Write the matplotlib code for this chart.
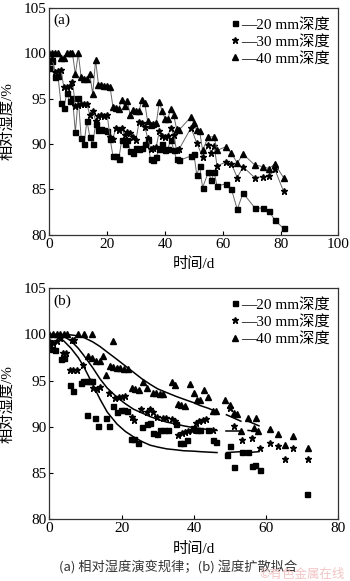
"""Relative humidity evolution (a) and humidity diffusion fitting (b)."""

import matplotlib

matplotlib.use("Agg")
import matplotlib.pyplot as plt
from matplotlib.lines import Line2D

plt.rcParams["font.family"] = ["Liberation Serif", "Noto Sans CJK SC"]
plt.rcParams["axes.unicode_minus"] = False

# ---------------- panel (a): measured series ----------------
days_a20 = [0, 1, 2, 3, 4, 5, 6, 7, 8, 9, 10, 11, 12, 13, 14, 15, 16, 17, 18, 19,
            20, 21, 22, 23, 24, 25, 26, 27, 28, 29, 30, 31, 32, 33, 34, 35, 36, 37,
            38, 39, 40, 41, 42, 43, 44, 45, 49, 50, 51, 52, 53, 55, 56, 57, 58, 61,
            63, 65, 67, 71, 74, 76, 78, 81]
rh_a20 = [98.4, 99.2, 97.4, 97.5, 94.5, 94.0, 95.6, 94.7, 95.1, 91.3, 95.1, 90.7,
          90.0, 92.6, 90.8, 90.0, 92.2, 91.6, 91.7, 91.6, 91.4, 90.6, 88.7, 88.7,
          88.3, 90.4, 90.0, 90.5, 89.2, 89.0, 89.6, 89.5, 89.6, 90.0, 90.4, 88.3,
          88.2, 88.6, 89.5, 90.0, 89.4, 89.5, 90.5, 89.4, 88.3, 88.2, 88.7, 88.9,
          86.6, 87.6, 85.2, 86.9, 86.0, 86.9, 85.4, 85.6, 85.0, 82.8, 84.6, 83.0,
          82.9, 82.6, 81.6, 80.7]

days_a30 = [0, 1, 2, 3, 4, 5, 6, 7, 8, 9, 10, 11, 12, 13, 14, 15, 16, 17, 18, 19,
            20, 21, 22, 23, 24, 25, 26, 27, 28, 29, 30, 31, 32, 33, 34, 35, 36, 37,
            38, 39, 40, 41, 42, 43, 44, 45, 49, 51, 53, 55, 56, 57, 58, 61, 63, 65,
            67, 71, 74, 76, 78, 81]
rh_a30 = [99.3, 99.4, 98.0, 98.1, 98.2, 96.3, 96.3, 96.4, 96.9, 94.2, 94.3, 94.4,
          94.4, 94.4, 93.2, 93.7, 92.6, 93.1, 93.2, 93.1, 93.2, 90.8, 90.6, 91.8,
          91.5, 91.8, 91.0, 91.3, 91.2, 90.8, 90.5, 92.4, 92.3, 91.9, 90.7, 89.5,
          89.6, 89.7, 91.4, 90.9, 90.8, 90.9, 91.8, 91.0, 89.3, 89.5, 91.8, 90.1,
          88.6, 89.9, 89.0, 89.8, 87.6, 88.0, 87.8, 86.3, 87.5, 86.3, 86.4, 86.5,
          87.2, 84.8]

days_a40 = [0, 1, 2, 3, 4, 5, 6, 7, 8, 9, 10, 11, 12, 13, 14, 15, 16, 17, 18, 19,
            20, 21, 22, 23, 24, 25, 26, 27, 28, 29, 30, 31, 32, 33, 34, 35, 36, 37,
            38, 39, 40, 41, 42, 43, 44, 45, 49, 50, 51, 52, 53, 55, 57, 58, 61, 63,
            65, 67, 71, 74, 76, 78, 81]
rh_a40 = [100, 100, 100, 100, 99.5, 99.5, 100, 100, 100, 97.7, 100, 97.4, 97.2,
          97.2, 97.7, 95.5, 99.3, 96.5, 96.5, 96.4, 96.4, 96.3, 94.1, 94.0, 93.9,
          94.9, 94.2, 94.7, 93.2, 93.8, 93.6, 93.6, 94.9, 94.5, 92.5, 92.1, 92.2,
          92.3, 94.6, 93.7, 92.8, 92.8, 93.9, 93.2, 91.7, 91.6, 93.0, 92.3, 91.5,
          91.4, 89.3, 90.8, 90.8, 89.3, 89.7, 89.0, 87.9, 88.9, 87.7, 87.5, 87.3,
          87.8, 86.3]

# ---------------- panel (b): measured points ----------------
days_b20 = [0, 0.7, 1.6, 3.1, 4.1, 5.7, 6.6, 8.7, 9.4, 10.3, 11.0, 11.7, 10.5, 12.7,
            13.6, 15.7, 16.6, 17.7, 18.7, 19.8, 20.7, 21.6, 22.5, 23.5, 24.4, 25.6,
            26.9, 27.8, 28.8, 29.7, 30.7, 31.7, 32.8, 35.1, 36.2, 37.1, 38.0, 39.7,
            40.8, 41.8, 44.0, 45.4, 46.2, 49.1, 50.0, 51.0, 53.3, 55.1, 56.0, 57.0,
            58.2, 71.3]
rh_b20 = [99.1, 98.4, 98.3, 97.3, 97.4, 94.5, 93.9, 94.7, 95.0, 95.0, 95.0, 95.0,
          91.3, 90.9, 90.1, 90.9, 90.1, 92.2, 91.6, 91.8, 91.8, 91.7, 88.7, 88.7,
          88.2, 90.0, 90.3, 90.4, 89.3, 89.2, 89.6, 89.6, 89.6, 90.3, 88.2, 88.2,
          88.6, 89.9, 89.6, 89.7, 89.6, 88.6, 88.3, 86.9, 87.9, 85.6, 87.3, 87.3,
          85.7, 85.9, 85.3, 82.7]

days_b30 = [0, 1, 2, 3, 3.7, 4.6, 6.2, 6.9, 5.7, 6.6, 7.6, 9.4, 12.2, 13.1, 14.0,
            16.6, 18.3, 19.3, 20.2, 21.0, 22.8, 23.3, 25.3, 26.9, 27.9, 28.8, 29.9,
            31.4, 32.4, 33.9, 34.8, 35.7, 36.7, 37.6, 38.5, 39.4, 40.5, 41.4, 42.4,
            43.3, 45.4, 49.9, 51.2, 53.2, 56.2, 58.2, 61.1, 63.3, 65.3, 67.3, 71.5]
rh_b30 = [99.3, 99.1, 99.3, 99.6, 98.0, 98.0, 99.4, 99.4, 96.1, 96.1, 96.2, 96.7,
          94.2, 94.1, 94.3, 93.7, 93.1, 93.2, 93.2, 93.3, 91.1, 90.7, 91.9, 91.6,
          91.9, 91.6, 91.1, 91.0, 91.0, 90.8, 90.6, 89.1, 89.3, 89.4, 89.5, 89.6,
          90.4, 90.6, 90.7, 90.8, 89.6, 92.0, 90.1, 88.6, 88.8, 87.7, 88.2, 87.9,
          86.5, 87.7, 86.5]

days_b40 = [0, 1, 2, 3, 4, 5, 8, 9.5, 11.7, 10.6, 11.7, 12.9, 13.9, 14.8, 15.7,
            16.8, 17.7, 17.7, 18.6, 19.5, 20.6, 21.8, 22.8, 23.7, 24.7, 26.0, 26.9,
            28.7, 29.4, 30.5, 31.5, 33.9, 34.8, 35.5, 36.5, 37.5, 38.8, 39.9, 40.9,
            41.8, 42.7, 44.0, 45.2, 46.2, 48.7, 50.0, 51.0, 52.0, 53.0, 55.1, 56.5,
            57.3, 57.7, 61.1, 63.3, 65.3, 67.3, 71.5]
rh_b40 = [100, 100, 100, 100, 100, 100, 100, 100, 100, 97.7, 97.4, 97.1, 97.1,
          97.7, 95.6, 96.6, 99.3, 96.5, 96.4, 96.4, 96.3, 96.3, 94.2, 94.1, 94.0,
          94.8, 94.2, 93.7, 93.7, 93.6, 93.6, 94.9, 94.5, 92.5, 92.4, 92.2, 94.6,
          93.7, 92.9, 92.9, 94.0, 93.2, 91.7, 91.7, 92.9, 92.4, 91.5, 91.4, 89.5,
          91.0, 89.9, 91.0, 89.5, 89.8, 89.2, 88.0, 89.0, 87.7]

# ---------------- panel (b): diffusion fit curves ----------------
fit_days = [0, 2, 4, 6, 8, 9.4, 12, 14, 16, 18.7, 21, 23.3, 25.6, 27.9, 30, 32.5,
            35, 37.1, 40, 41.7, 44, 46.4]
fit_20 = [100, 99.9, 99.3, 98.5, 97.5, 96.6, 94.6, 93.0, 91.6, 90.3, 89.5, 88.9,
          88.4, 88.0, 87.8, 87.6, 87.5, 87.4, 87.35, 87.3, 87.25, 87.2]
fit_30 = [100, 100, 99.8, 99.3, 98.5, 97.8, 96.4, 95.2, 94.2, 93.2, 92.5, 91.9,
          91.5, 91.1, 90.8, 90.5, 90.3, 90.1, 89.9, 89.8, 89.7, 89.6]
fit_40 = [100, 100, 100, 99.95, 99.85, 99.7, 99.2, 98.7, 98.1, 97.3, 96.6, 95.9,
          95.2, 94.6, 94.1, 93.7, 93.3, 93.0, 92.6, 92.3, 92.0, 91.6]

# short late-stage fit segments
seg_days_1 = [49, 53]
seg_days_2 = [55, 58]
seg_20 = ([87.2, 87.3], [87.2, 87.3])
seg_30 = ([89.5, 89.5], [89.6, 89.5])
seg_40 = ([91.3, 90.6], [90.6, 90.1])

labels = ["\u201420 mm深度", "\u201430 mm深度", "\u201440 mm深度"]
markers = ["s", "*", "^"]
msizes = [3.6, 5.0, 4.4]
yticks = [80, 85, 90, 95, 100, 105]


def style_axes(ax, xmax):
    ax.set_xlim(0, xmax)
    ax.set_ylim(80, 105)
    ax.set_xticks(range(0, xmax + 1, 20))
    ax.set_yticks(yticks)
    ax.tick_params(direction="in", length=3, width=0.8, labelsize=11,
                   top=False, right=False, pad=2)
    for sp in ax.spines.values():
        sp.set_linewidth(0.9)
        sp.set_color("#333333")
    ax.set_xlabel("时间/d", fontsize=11, labelpad=5)
    ax.set_ylabel("相对湿度/%", fontsize=11)
    ax.yaxis.set_label_coords(-0.12, 0.5)
    handles = [Line2D([], [], marker=m, ls="none", color="black", ms=s)
               for m, s in zip(markers, msizes)]
    ax.legend(handles, labels, loc="upper right", frameon=False, fontsize=11,
              handlelength=0.6, handletextpad=0.05, labelspacing=0.22,
              borderaxespad=0.3, borderpad=0.3)


fig = plt.figure(figsize=(3.5, 5.81), dpi=100)
ax_a = fig.add_axes([0.141, 0.596, 0.826, 0.39])
ax_b = fig.add_axes([0.141, 0.1067, 0.826, 0.397])

# panel (a)
for d, v, m, s in zip([days_a20, days_a30, days_a40], [rh_a20, rh_a30, rh_a40],
                      markers, msizes):
    ax_a.plot(d, v, color="#666666", lw=0.7, marker=m, ms=s,
              mfc="black", mec="black")
style_axes(ax_a, 100)
ax_a.text(0.015, 0.975, "(a)", transform=ax_a.transAxes, fontsize=11,
          ha="left", va="top")

# panel (b)
for d, v, m, s in zip([days_b20, days_b30, days_b40], [rh_b20, rh_b30, rh_b40],
                      markers, msizes):
    ax_b.plot(d, v, ls="none", marker=m, ms=s, mfc="black", mec="black")
for f in [fit_20, fit_30, fit_40]:
    ax_b.plot(fit_days, f, color="black", lw=1.1)
for seg in [seg_20, seg_30, seg_40]:
    ax_b.plot(seg_days_1, seg[0], color="black", lw=1.1)
    ax_b.plot(seg_days_2, seg[1], color="black", lw=1.1)
style_axes(ax_b, 80)
ax_b.text(0.015, 0.975, "(b)", transform=ax_b.transAxes, fontsize=11,
          ha="left", va="top")

fig.text(0.509, 0.025, "(a) 相对湿度演变规律；(b) 湿度扩散拟合", fontsize=9.5,
         ha="center", va="center", family=["Noto Sans CJK SC", "DejaVu Sans"],
         color="#333333")
fig.text(0.985, 0.011, "©有色金属在线", fontsize=9, ha="right", va="center",
         family=["Noto Sans CJK SC", "DejaVu Sans"], color="#f2c4c4")

fig.savefig("out.png", dpi=100)
